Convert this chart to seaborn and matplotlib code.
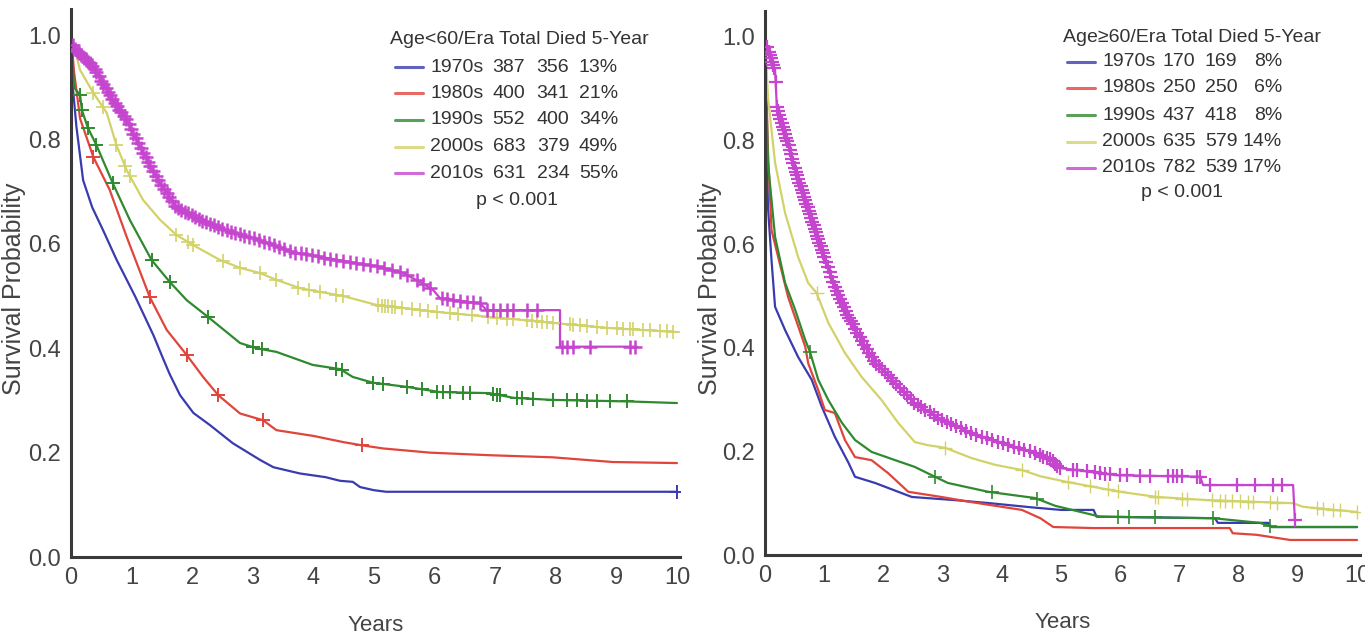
import numpy as np
import pandas as pd
import matplotlib
matplotlib.use("Agg")
import matplotlib.pyplot as plt
from matplotlib.lines import Line2D
import seaborn as sns

# ---------------- data ----------------
eras = ["1970s", "1980s", "1990s", "2000s", "2010s"]
colors = ["#3b3bb0", "#e0453c", "#2f8a2f", "#d2d26a", "#c545cf"]

# Age < 60
L_t = {
    "1970s": [0, 0.03, 0.09, 0.2, 0.35, 0.53, 0.75, 1.06, 1.36, 1.52, 1.63, 1.8, 2.02, 2.29, 2.67, 3.12, 3.34, 3.78, 4.2, 4.44, 4.65, 4.77, 5.0, 5.2, 10],
    "1980s": [0, 0.05, 0.15, 0.37, 0.64, 0.92, 1.3, 1.58, 1.91, 2.18, 2.43, 2.79, 3.17, 3.39, 4.0, 4.5, 4.8, 5.15, 5.92, 6.91, 7.95, 8.94, 10],
    "1990s": [0, 0.05, 0.15, 0.18, 0.28, 0.42, 0.69, 0.97, 1.33, 1.63, 1.91, 2.26, 2.79, 3.06, 3.39, 3.99, 4.44, 4.65, 4.98, 5.54, 6.09, 6.91, 7.3, 7.95, 9.22, 10],
    "2000s": [0, 0.15, 0.37, 0.59, 0.75, 0.92, 1.19, 1.47, 1.74, 2.07, 2.46, 2.79, 3.12, 3.39, 3.78, 4.49, 5.04, 6.09, 6.91, 8.01, 8.84, 10],
    "2010s": [0, 0.05, 0.37, 0.69, 0.92, 1.19, 1.47, 1.74, 2.13, 2.57, 3.12, 3.67, 4.22, 4.71, 5.1, 5.48, 5.76, 5.98, 6.09, 6.75, 6.86, 8.07, 8.07, 9.34],
}
L_s = {
    "1970s": [1, 0.9, 0.824, 0.722, 0.67, 0.626, 0.57, 0.499, 0.425, 0.38, 0.35, 0.31, 0.276, 0.253, 0.218, 0.186, 0.172, 0.16, 0.153, 0.146, 0.144, 0.134, 0.128, 0.125, 0.125],
    "1980s": [1, 0.93, 0.84, 0.766, 0.703, 0.613, 0.498, 0.435, 0.387, 0.345, 0.31, 0.275, 0.262, 0.243, 0.232, 0.22, 0.214, 0.208, 0.2, 0.195, 0.191, 0.182, 0.18],
    "1990s": [1, 0.9, 0.885, 0.856, 0.822, 0.789, 0.716, 0.646, 0.569, 0.527, 0.492, 0.46, 0.41, 0.40, 0.393, 0.368, 0.36, 0.345, 0.334, 0.326, 0.316, 0.314, 0.305, 0.301, 0.298, 0.295],
    "2000s": [1, 0.933, 0.889, 0.851, 0.789, 0.741, 0.684, 0.646, 0.617, 0.594, 0.569, 0.554, 0.544, 0.531, 0.515, 0.50, 0.483, 0.469, 0.46, 0.448, 0.439, 0.431],
    "2010s": [0.99, 0.975, 0.939, 0.875, 0.837, 0.774, 0.716, 0.67, 0.646, 0.626, 0.607, 0.584, 0.573, 0.563, 0.556, 0.544, 0.527, 0.511, 0.496, 0.486, 0.473, 0.473, 0.403, 0.403],
}
L_cens = {
    "1970s": [10],
    "1980s": [0.37, 1.3, 1.91, 2.43, 3.17, 4.8],
    "1990s": [0.15, 0.18, 0.28, 0.42, 0.69, 1.33, 1.63, 2.26, 3.0, 3.15, 4.38, 4.47, 4.98, 5.15, 5.54, 5.79, 6.04, 6.14,
              6.26, 6.47, 6.58, 6.96, 7.03, 7.08, 7.36, 7.44, 7.62, 7.95, 8.18, 8.35, 8.51, 8.68, 8.89, 9.17],
    "2000s": [0.37, 0.53, 0.75, 0.89, 0.97, 1.74, 1.93, 2.02, 2.51, 2.79, 3.12, 3.39, 3.75, 3.92, 4.11, 4.38, 4.49,
              5.07, 5.13, 5.18, 5.23, 5.30, 5.35, 5.46, 5.63, 5.76, 5.89, 6.04, 6.25, 6.39, 6.62, 6.88, 7.03, 7.20,
              7.29, 7.52, 7.61, 7.69, 7.77, 7.85, 7.95, 8.23, 8.28, 8.40, 8.51, 8.68, 8.84, 9.01, 9.11, 9.22, 9.27,
              9.44, 9.55, 9.72, 9.83, 9.93],
    "2010s": [0.03, 0.07, 0.1, 0.14, 0.17, 0.21, 0.24, 0.28, 0.31, 0.35, 0.39, 0.42, 0.46, 0.5, 0.53, 0.57, 0.61, 0.64,
              0.68, 0.72, 0.76, 0.8, 0.83, 0.87, 0.91, 0.95, 0.99, 1.03, 1.07, 1.11, 1.15, 1.19, 1.23, 1.27, 1.31, 1.36,
              1.4, 1.44, 1.49, 1.53, 1.58, 1.62, 1.67, 1.72, 1.77, 1.82, 1.88, 1.93, 1.99, 2.05, 2.11, 2.17, 2.23, 2.3,
              2.36, 2.43, 2.5, 2.57, 2.64, 2.71, 2.79, 2.86, 2.94, 3.02, 3.1, 3.18, 3.26, 3.35, 3.43, 3.52, 3.61, 3.7,
              3.79, 3.88, 3.98, 4.08, 4.18, 4.28, 4.38, 4.49, 4.6, 4.71, 4.82, 4.93, 5.05, 5.17, 5.3, 5.43, 5.55,
              5.71, 5.81, 5.92, 6.12, 6.2, 6.3, 6.42, 6.53, 6.63, 6.75, 6.86, 6.96, 7.08, 7.19, 7.29, 7.52, 7.69,
              8.1, 8.18, 8.28, 8.56, 9.22, 9.31],
}

# Age >= 60
R_t = {
    "1970s": [0, 0.05, 0.11, 0.17, 0.34, 0.56, 0.79, 0.96, 1.18, 1.41, 1.52, 1.86, 2.25, 2.48, 3.2, 3.8, 4.5, 5.0, 5.55, 5.6, 7.6, 7.65, 8.5, 8.55, 10],
    "1980s": [0, 0.05, 0.11, 0.39, 0.68, 0.73, 0.9, 1.01, 1.18, 1.35, 1.52, 1.8, 2.08, 2.42, 2.98, 3.49, 4.34, 4.65, 4.87, 5.54, 7.85, 7.9, 8.3, 8.87, 10],
    "1990s": [0, 0.05, 0.17, 0.34, 0.51, 0.68, 0.76, 0.9, 1.07, 1.3, 1.52, 1.8, 2.2, 2.53, 2.87, 3.09, 3.77, 4.56, 4.9, 5.66, 7.57, 8.36, 8.58, 10],
    "2000s": [0, 0.05, 0.17, 0.34, 0.56, 0.73, 0.87, 1.07, 1.35, 1.63, 1.97, 2.25, 2.53, 2.75, 3.04, 3.49, 3.89, 4.34, 4.65, 5.1, 6.0, 6.62, 7.47, 8.92, 9.09, 10],
    "2010s": [0, 0.05, 0.17, 0.2, 0.28, 0.39, 0.51, 0.62, 0.79, 0.96, 1.18, 1.41, 1.63, 1.86, 2.2, 2.53, 2.98, 3.49, 4.0, 4.5, 4.84, 4.98, 5.94, 7.35, 7.4, 8.92, 8.95],
}
R_s = {
    "1970s": [1, 0.672, 0.569, 0.479, 0.434, 0.382, 0.338, 0.286, 0.228, 0.178, 0.151, 0.139, 0.122, 0.112, 0.106, 0.1, 0.092, 0.087, 0.087, 0.074, 0.071, 0.062, 0.062, 0.054, 0.054],
    "1980s": [1, 0.78, 0.627, 0.498, 0.402, 0.37, 0.318, 0.28, 0.274, 0.222, 0.189, 0.183, 0.158, 0.122, 0.112, 0.102, 0.087, 0.071, 0.054, 0.052, 0.052, 0.042, 0.039, 0.029, 0.029],
    "1990s": [1, 0.757, 0.614, 0.525, 0.473, 0.415, 0.392, 0.338, 0.299, 0.255, 0.222, 0.199, 0.183, 0.17, 0.151, 0.139, 0.122, 0.11, 0.095, 0.074, 0.071, 0.062, 0.054, 0.054],
    "2000s": [1, 0.884, 0.757, 0.66, 0.575, 0.525, 0.506, 0.448, 0.39, 0.344, 0.299, 0.255, 0.218, 0.212, 0.207, 0.187, 0.174, 0.164, 0.152, 0.141, 0.122, 0.112, 0.106, 0.1, 0.093, 0.083],
    "2010s": [1, 0.975, 0.936, 0.865, 0.834, 0.795, 0.743, 0.705, 0.647, 0.589, 0.517, 0.459, 0.415, 0.371, 0.332, 0.293, 0.261, 0.235, 0.216, 0.199, 0.183, 0.168, 0.154, 0.151, 0.135, 0.135, 0.068],
}
R_cens = {
    "1970s": [],
    "1980s": [],
    "1990s": [0.76, 2.87, 3.83, 4.59, 5.96, 6.15, 6.59, 7.57, 8.53],
    "2000s": [0.87, 3.04, 4.34, 5.12, 5.49, 5.79, 5.96, 6.59, 6.64, 7.04, 7.13, 7.55, 7.69, 7.77, 7.89, 8.02, 8.16,
              8.24, 8.53, 8.65, 9.32, 9.43, 9.59, 9.71, 10.0],
    "2010s": [0.04, 0.06, 0.08, 0.1, 0.12, 0.14, 0.16, 0.18, 0.2, 0.22, 0.24, 0.26, 0.28, 0.3, 0.32, 0.34, 0.36, 0.38,
              0.4, 0.42, 0.44, 0.46, 0.48, 0.5, 0.52, 0.54, 0.56, 0.58, 0.6, 0.62, 0.64, 0.66, 0.68, 0.7, 0.72, 0.74,
              0.76, 0.78, 0.8, 0.82, 0.84, 0.86, 0.88, 0.9, 0.92, 0.94, 0.96, 0.98, 1.0, 1.03, 1.06, 1.09, 1.12, 1.15,
              1.18, 1.21, 1.24, 1.27, 1.3, 1.33, 1.36, 1.39, 1.42, 1.45, 1.48, 1.52, 1.56, 1.6, 1.64, 1.68, 1.72,
              1.76, 1.8, 1.84, 1.88, 1.92, 1.97, 2.02, 2.07, 2.12, 2.17, 2.22, 2.28, 2.34, 2.4, 2.46, 2.52, 2.58,
              2.64, 2.71, 2.78, 2.85, 2.92, 2.99, 3.07, 3.15, 3.23, 3.31, 3.39, 3.48, 3.57, 3.66, 3.75, 3.84, 3.93,
              4.02, 4.11, 4.2, 4.29, 4.38, 4.47, 4.56, 4.64, 4.70, 4.76, 4.81, 4.86, 4.90, 4.94, 4.98, 5.20, 5.27,
              5.44, 5.57, 5.66, 5.74, 5.83, 6.0, 6.11, 6.33, 6.50, 6.81, 6.89, 6.96, 7.04, 7.30, 7.35, 7.52, 7.97,
              8.28, 8.58, 8.73, 8.95],
}

L_total = ["387", "400", "552", "683", "631"]
L_died = ["356", "341", "400", "379", "234"]
L_5yr = ["13%", "21%", "34%", "49%", "55%"]
R_total = ["170", "250", "437", "635", "782"]
R_died = ["169", "250", "418", "579", "539"]
R_5yr = ["8%", "6%", "8%", "14%", "17%"]

# ---------------- style ----------------
sns.set_style("white")
FONT = ["Liberation Sans", "DejaVu Sans"]
plt.rcParams["font.family"] = FONT

W, H = 1365, 639
fig = plt.figure(figsize=(W / 100, H / 100), dpi=100)
axL = fig.add_axes([71 / W, (H - 557) / H, 609 / W, 548 / H])
axR = fig.add_axes([765 / W, (H - 555) / H, 595 / W, 544 / H])

spine_c = "#3a3a3a"
lab_c = "#444444"


def draw_panel(ax, T, S, C, lw_cens):
    for era, col in zip(eras, colors):
        df = pd.DataFrame({"t": T[era], "s": S[era]})
        sns.lineplot(data=df, x="t", y="s", sort=False, estimator=None,
                     color=col, linewidth=1.6, ax=ax, legend=False)
        ct = np.array(C[era], dtype=float)
        if len(ct):
            # censor marks sit on the curve at their time
            cs = np.interp(ct, np.array(T[era]), np.array(S[era]))
            sns.scatterplot(x=ct, y=cs, marker="+", s=110, color=col,
                            linewidth=lw_cens[era], ax=ax, legend=False, zorder=3)
    ax.set_xlim(0, 10.05)
    ax.set_ylim(0, 1.05)
    ax.set_xticks(range(0, 11))
    ax.set_yticks([0, 0.2, 0.4, 0.6, 0.8, 1.0])
    ax.set_yticklabels(["0.0", "0.2", "0.4", "0.6", "0.8", "1.0"])
    ax.set_xlabel("")
    ax.set_ylabel("")
    for sp in ["top", "right"]:
        ax.spines[sp].set_visible(False)
    for sp in ["left", "bottom"]:
        ax.spines[sp].set_color(spine_c)
        ax.spines[sp].set_linewidth(2.2)
    ax.tick_params(direction="in", length=4, width=1.5, color=spine_c,
                   labelsize=17, labelcolor=lab_c, pad=7)
    ax.text(0.5, -0.125, "Years", transform=ax.transAxes, ha="center", va="center",
            fontsize=16, color=lab_c)
    ax.text(-0.093, 0.49, "Survival Probability", transform=ax.transAxes, ha="center",
            va="center", rotation=90, fontsize=18, color=lab_c)
    ax.patch.set_alpha(0)


draw_panel(axL, L_t, L_s, L_cens, {"1970s": 1.4, "1980s": 1.4, "1990s": 1.4, "2000s": 1.2, "2010s": 1.8})
draw_panel(axR, R_t, R_s, R_cens, {"1970s": 1.2, "1980s": 1.2, "1990s": 1.2, "2000s": 1.0, "2010s": 1.6})


def fx(px):
    return px / W


def fy(py):
    return 1 - py / H


def legend(header, x_head, y_head, rows_y, x_line, x_era, x_tot, x_died, x_5, x_p, y_p,
           totals, died, fives):
    tc = "#333333"
    fs = 14
    fig.text(fx(x_head), fy(y_head), header, ha="left", va="center", fontsize=fs, color=tc)
    for i, (era, col) in enumerate(zip(eras, colors)):
        y = rows_y[i]
        fig.add_artist(Line2D([fx(x_line[0]), fx(x_line[1])], [fy(y), fy(y)],
                              color=col, linewidth=2.2, alpha=0.8, transform=fig.transFigure))
        fig.text(fx(x_era), fy(y), era, ha="left", va="center", fontsize=fs, color=tc)
        fig.text(fx(x_tot), fy(y), totals[i], ha="center", va="center", fontsize=fs, color=tc)
        fig.text(fx(x_died), fy(y), died[i], ha="center", va="center", fontsize=fs, color=tc)
        fig.text(fx(x_5), fy(y), fives[i], ha="right", va="center", fontsize=fs, color=tc)
    fig.text(fx(x_p), fy(y_p), "p < 0.001", ha="center", va="center", fontsize=fs, color=tc)


legend("Age<60/Era Total Died 5-Year", 390, 39, [67, 93, 120, 146.5, 173],
       (395, 423), 430, 509, 553, 618, 517, 200, L_total, L_died, L_5yr)
legend("Age\u226560/Era Total Died 5-Year", 1063, 38, [62, 88, 115, 141.5, 168],
       (1067, 1095), 1102, 1179, 1221, 1282, 1182, 193, R_total, R_died, R_5yr)

fig.savefig("out.png", dpi=100)
